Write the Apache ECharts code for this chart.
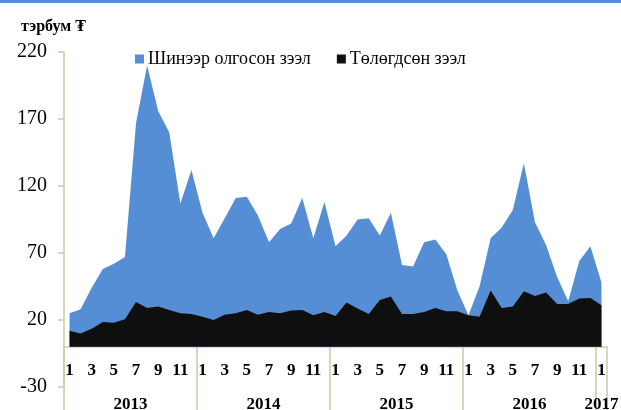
<!DOCTYPE html>
<html>
<head>
<meta charset="utf-8">
<script src="https://cdn.jsdelivr.net/npm/echarts@6/dist/echarts.min.js"></script>
<style>
  html, body { margin: 0; padding: 0; background: #fff; }
  #chart { width: 621px; height: 410px; }
</style>
</head>
<body>
<div id="chart"></div>
<script>
// сар бүрийн өгөгдөл, 2013.1 - 2017.1
var years = [2013, 2014, 2015, 2016, 2017]
var months = [1, 2, 3, 4, 5, 6, 7, 8, 9, 10, 11, 12]
var newLoans = [
  25, 28, 44, 58, 62, 67, 167, 210, 176, 160, 107, 132,
  100, 81, 96, 111, 112, 98, 78, 88, 92, 111, 81, 108,
  75, 83, 95, 96, 83, 100, 61, 60, 78, 80, 69, 42,
  23.5, 45, 81, 89, 102, 137, 93, 76, 52, 34, 64, 75,
  48
]
var repaidLoans = [
  12, 10, 13.5, 18.5, 18, 20.5, 33.5, 29, 30, 27.5, 25, 24.5,
  22.5, 20, 24, 25, 27.5, 24, 26, 25, 27, 27.5, 23.5, 26,
  23, 33, 28.5, 24.5, 35, 37.5, 24.5, 24.5, 26, 29, 26.5, 26.5,
  23.5, 22.5, 42, 29, 30, 41.5, 38, 40.5, 32, 32, 36, 36.5,
  31
]
var yTicks = { min: -30, max: 220, step: 50 }
var yearTicks = [0, 12, 24, 36, 48, 49]
var yearLabelPos = [6, 18, 30, 42, 48.5]

var categories = []
for (var i = 0; i < newLoans.length; i++) {
  categories.push(years[Math.floor(i / 12)] + '-' + months[i % 12])
}

var serif = '"Liberation Serif", "Times New Roman", "DejaVu Serif", serif'
var axisColor = '#CFC8A8'
var blue = '#558ED5'
var black = '#0F0F0F'

// grid хэмжээ; x тэнхлэгийг 0 дээр байрлуулах
var gridTop = 52
var gridBottom = 23
var gridHeight = 410 - gridTop - gridBottom
var zeroOffset = -gridHeight * (0 - yTicks.min) / (yTicks.max - yTicks.min)

var chart = echarts.init(document.getElementById('chart'))
chart.setOption({
  animation: false,
  textStyle: { fontFamily: serif },
  graphic: [
    { type: 'rect', left: 0, top: 0, shape: { width: 621, height: 3 }, style: { fill: blue } }
  ],
  title: {
    text: 'тэрбум ₮',
    left: 16,
    top: 14,
    textStyle: { fontFamily: serif, fontSize: 16, fontWeight: 'bold', color: '#000' }
  },
  legend: {
    left: 130,
    top: 45,
    icon: 'rect',
    itemWidth: 9,
    itemHeight: 9,
    itemGap: 26,
    textStyle: { fontFamily: serif, fontSize: 18, color: '#000', padding: [0, 0, 0, -1] },
    data: ['Шинээр олгосон зээл', 'Төлөгдсөн зээл']
  },
  grid: {
    left: 64,
    right: 14,
    top: gridTop,
    bottom: gridBottom,
    containLabel: false,
    outerBoundsMode: 'none'
  },
  xAxis: [
    {
      type: 'category',
      data: categories,
      boundaryGap: true,
      position: 'bottom',
      offset: zeroOffset,
      axisLine: { onZero: false, lineStyle: { color: axisColor, width: 1.5 } },
      axisTick: { show: false },
      axisLabel: {
        interval: 1,
        margin: 15,
        fontFamily: serif,
        fontSize: 17,
        fontWeight: 'bold',
        color: '#000',
        formatter: function (v) { return v.split('-')[1] }
      },
      splitLine: { show: false }
    },
    {
      type: 'value',
      min: 0,
      max: 49,
      position: 'bottom',
      offset: zeroOffset,
      axisLine: { show: false, onZero: false },
      axisTick: {
        show: true,
        inside: false,
        length: 66,
        customValues: yearTicks,
        lineStyle: { color: axisColor, width: 1.5 }
      },
      axisLabel: {
        margin: 49,
        customValues: yearLabelPos,
        fontFamily: serif,
        fontSize: 17,
        fontWeight: 'bold',
        color: '#000',
        formatter: function (v) { return String(years[Math.floor(v / 12)]) }
      },
      splitLine: { show: false }
    }
  ],
  yAxis: {
    type: 'value',
    min: yTicks.min,
    max: yTicks.max,
    interval: yTicks.step,
    axisLine: { show: true, onZero: false, lineStyle: { color: axisColor, width: 1.5 } },
    axisTick: { show: true, length: 6, lineStyle: { color: axisColor, width: 1.5 } },
    axisLabel: { margin: 17, fontFamily: serif, fontSize: 20, color: '#000' },
    splitLine: { show: false }
  },
  series: [
    {
      name: 'Шинээр олгосон зээл',
      type: 'line',
      data: newLoans,
      symbol: 'none',
      lineStyle: { width: 0 },
      itemStyle: { color: blue },
      areaStyle: { color: blue, opacity: 1 }
    },
    {
      name: 'Төлөгдсөн зээл',
      type: 'line',
      data: repaidLoans,
      symbol: 'none',
      lineStyle: { width: 0 },
      itemStyle: { color: black },
      areaStyle: { color: black, opacity: 1 }
    }
  ]
})
</script>
</body>
</html>
